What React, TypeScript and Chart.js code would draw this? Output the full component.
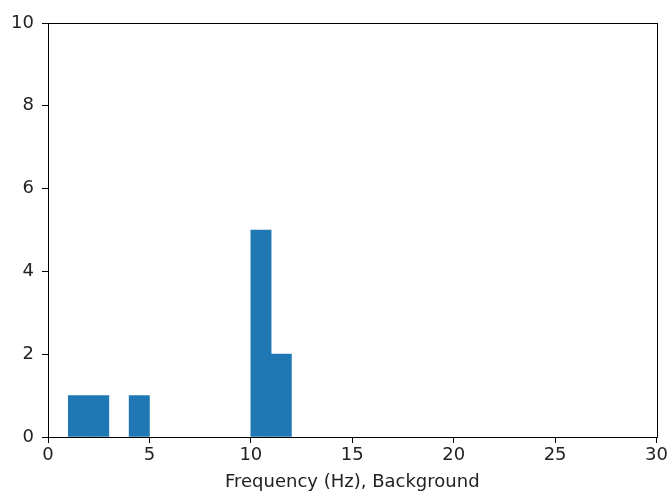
import React, { useEffect, useRef } from "react";
import { Chart, registerables } from "chart.js";

Chart.register(...registerables);

// Histogram bins: left edges 0..29, each 1 Hz wide
const binStarts: number[] = Array.from({ length: 30 }, (_, i) => i);
const counts: number[] = [
  0, 1, 1, 0, 1, 0, 0, 0, 0, 0,
  5, 2, 0, 0, 0, 0, 0, 0, 0, 0,
  0, 0, 0, 0, 0, 0, 0, 0, 0, 0,
];
const xTicks: number[] = [0, 5, 10, 15, 20, 25, 30];
const yTicks: number[] = [0, 2, 4, 6, 8, 10];
const xTitle = "Frequency (Hz), Background";

const FONT = "'DejaVu Sans', sans-serif";
const TEXT = "#222222";
const FS = 18;

const framePlugin = {
  id: "frame",
  afterDraw(chart: any) {
    const { ctx, chartArea } = chart;
    ctx.save();
    ctx.strokeStyle = "#000";
    ctx.lineWidth = 1;
    ctx.strokeRect(
      Math.round(chartArea.left) + 0.5,
      Math.round(chartArea.top) + 0.5,
      Math.round(chartArea.right - chartArea.left),
      Math.round(chartArea.bottom - chartArea.top)
    );
    ctx.restore();
  },
};

export default function App() {
  const ref = useRef<HTMLCanvasElement>(null);
  useEffect(() => {
    document.body.style.margin = "0";
    const data = binStarts.map((s, i) => ({
      x: s + 0.5,
      y: counts[i] === 0 ? null : counts[i],
    }));
    const chart = new Chart(ref.current!, {
      type: "bar",
      data: {
        datasets: [
          {
            data,
            backgroundColor: "#1f77b4",
            borderWidth: 0,
            barPercentage: 1,
            categoryPercentage: 1,
          },
        ],
      },
      options: {
        animation: false,
        responsive: false,
        maintainAspectRatio: false,
        layout: { padding: { top: 23, right: 12, left: 0, bottom: 0 } },
        plugins: { legend: { display: false }, tooltip: { enabled: false } },
        scales: {
          x: {
            type: "linear",
            min: 0,
            max: 30,
            offset: false,
            afterBuildTicks(scale: any) {
              scale.ticks = xTicks.map((v) => ({ value: v }));
            },
            afterFit(scale: any) {
              scale.height = 59;
            },
            grid: {
              display: true,
              offset: false,
              drawOnChartArea: false,
              drawTicks: true,
              tickLength: 6,
              color: "#000",
            },
            border: { display: false },
            ticks: {
              padding: 2,
              color: TEXT,
              font: { family: FONT, size: FS },
              maxRotation: 0,
              autoSkip: false,
            },
            title: {
              display: true,
              text: xTitle,
              color: TEXT,
              font: { family: FONT, size: FS },
              padding: { top: 0, bottom: 3 },
            },
          },
          y: {
            min: 0,
            max: 10,
            afterBuildTicks(scale: any) {
              scale.ticks = yTicks.map((v) => ({ value: v }));
            },
            afterFit(scale: any) {
              scale.width = 48;
            },
            grid: {
              display: true,
              offset: false,
              drawOnChartArea: false,
              drawTicks: true,
              tickLength: 6,
              color: "#000",
            },
            border: { display: false },
            ticks: {
              padding: 8,
              color: TEXT,
              font: { family: FONT, size: FS },
              autoSkip: false,
            },
          },
        },
      },
      plugins: [framePlugin],
    });
    return () => chart.destroy();
  }, []);
  return (
    <div style={{ width: 670, height: 496 }}>
      <canvas ref={ref} width={670} height={496} style={{ display: "block" }} />
    </div>
  );
}
